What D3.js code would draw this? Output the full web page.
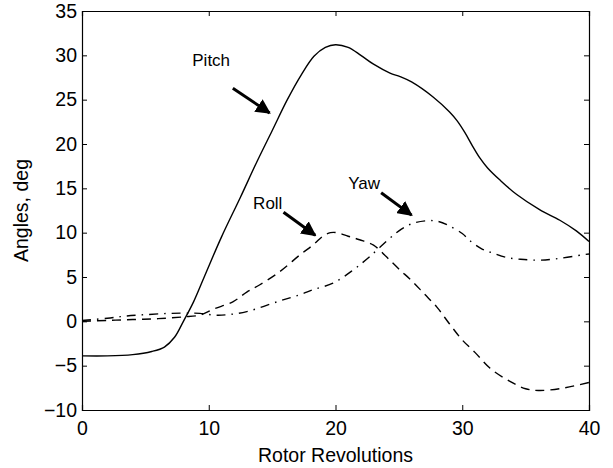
<!DOCTYPE html>
<html>
<head>
<meta charset="utf-8">
<script src="https://cdn.jsdelivr.net/npm/d3@7"></script>
<style>
  html, body { margin: 0; padding: 0; background: #fff; }
  svg { display: block; }
  text { font-family: "Liberation Sans", Arial, Helvetica, sans-serif; fill: #000; }
</style>
</head>
<body>
<svg id="chart" width="613" height="468"></svg>
<script>
// Rotor revolutions (x) and attitude angles in degrees (y)
const pitchRev = [0, 2, 4, 5.5, 6.5, 7.3, 8, 8.8, 9.7, 11, 12.5, 13.8, 15, 16.2, 17.3, 18.3, 19.2, 20, 21, 22, 23, 24.3, 25.1, 26, 27.7, 29, 29.6, 30.2, 30.8, 31.4, 32, 33, 34.3, 36.1, 37.7, 39, 40];
const pitchDeg = [-3.9, -3.9, -3.75, -3.4, -2.9, -1.8, 0, 2.2, 5.2, 9.5, 14, 18, 21.5, 25, 27.8, 29.9, 30.9, 31.2, 30.9, 30.0, 29.0, 28.0, 27.6, 27.0, 25.3, 23.6, 22.6, 21.3, 19.8, 18.4, 17.3, 15.9, 14.3, 12.6, 11.4, 10.2, 9.0];

const rollRev = [0, 2, 4, 6, 8, 9.3, 10.4, 11.9, 13, 14, 15.6, 17.2, 18.3, 19, 19.6, 20.1, 21, 21.9, 23, 24, 25, 26, 27, 28, 29, 30, 31, 32.2, 33.8, 35, 36, 37.7, 40];
const rollDeg = [0, 0.1, 0.2, 0.3, 0.5, 0.7, 1.4, 2.2, 3.3, 4.1, 5.6, 7.5, 8.7, 9.6, 10.0, 10.0, 9.6, 9.2, 8.6, 7.3, 5.9, 4.6, 3.1, 1.6, -0.3, -2.1, -3.5, -5.3, -6.8, -7.6, -7.8, -7.6, -6.9];

const yawRev = [0, 2, 3.5, 5, 7, 9.3, 10.5, 11.5, 13, 15.6, 17.2, 18.3, 19.8, 21.4, 22.7, 24.3, 25.2, 26.1, 27.2, 28, 28.8, 30, 30.6, 31.5, 32.4, 33.5, 34.6, 36.1, 37.7, 39.5, 40];
const yawDeg = [0.1, 0.35, 0.6, 0.75, 0.9, 0.9, 0.7, 0.75, 1.1, 2.3, 3.0, 3.6, 4.3, 5.8, 7.3, 9.4, 10.4, 11.05, 11.35, 11.3, 10.9, 9.9, 9.1, 8.2, 7.7, 7.2, 7.0, 6.9, 7.1, 7.5, 7.6];

const xTicks = [0, 10, 20, 30, 40];
const yTicks = [-10, -5, 0, 5, 10, 15, 20, 25, 30, 35];

// Callout labels: text anchor point and arrow from/to, in data units
const calloutNames = ["Pitch", "Roll", "Yaw"];
const calloutText = [[8.7, 28.8], [13.5, 12.7], [21.0, 14.9]];
const calloutFrom = [[11.9, 26.3], [15.9, 12.3], [23.6, 14.5]];
const calloutTo = [[14.8, 23.5], [18.4, 9.7], [26.0, 11.98]];

const svg = d3.select("#chart");
const margin = { left: 82, top: 11, right: 24, bottom: 58 };
const W = 613, H = 468;
const x = d3.scaleLinear().domain([0, 40]).range([margin.left, W - margin.right]);
const y = d3.scaleLinear().domain([-10, 35]).range([H - margin.bottom, margin.top]);

const FS = 19.5;

// Frame with inward ticks on all four sides
const gB = svg.append("g").attr("transform", `translate(0,${y(-10)})`)
  .call(d3.axisBottom(x).tickValues(xTicks).tickSize(-5).tickPadding(11).tickFormat(d3.format("d")));
const gT = svg.append("g").attr("transform", `translate(0,${y(35)})`)
  .call(d3.axisTop(x).tickValues(xTicks).tickSize(-5).tickFormat(""));
const gL = svg.append("g").attr("transform", `translate(${x(0)},0)`)
  .call(d3.axisLeft(y).tickValues(yTicks).tickSize(-5).tickPadding(5).tickFormat(d => d < 0 ? "\u2212" + Math.abs(d) : d));
const gR = svg.append("g").attr("transform", `translate(${x(40)},0)`)
  .call(d3.axisRight(y).tickValues(yTicks).tickSize(-5).tickFormat(""));

[gB, gT, gL, gR].forEach(g => {
  g.select(".domain").attr("stroke", "#000").attr("stroke-width", 1.2);
  g.selectAll(".tick line").attr("stroke", "#000").attr("stroke-width", 1);
  g.selectAll("text").attr("font-size", FS).attr("font-family", "Liberation Sans, Arial, sans-serif").attr("fill", "#000");
});

// Curves
const line = d3.line().x(d => x(d[0])).y(d => y(d[1])).curve(d3.curveCatmullRom.alpha(0.5));
const series = [
  { rev: pitchRev, deg: pitchDeg, dash: null },
  { rev: rollRev, deg: rollDeg, dash: "9,6" },
  { rev: yawRev, deg: yawDeg, dash: "9,6,1.5,6" }
];
series.forEach(s => {
  svg.append("path")
    .datum(s.rev.map((r, i) => [r, s.deg[i]]))
    .attr("fill", "none")
    .attr("stroke", "#000")
    .attr("stroke-width", 1.4)
    .attr("stroke-dasharray", s.dash)
    .attr("d", line);
});

// Arrow head marker
svg.append("defs").append("marker")
  .attr("id", "head")
  .attr("viewBox", "0 0 10 10")
  .attr("refX", 9).attr("refY", 5)
  .attr("markerWidth", 5).attr("markerHeight", 5)
  .attr("markerUnits", "strokeWidth")
  .attr("orient", "auto")
  .append("path").attr("d", "M0,0 L10,5 L0,10 Z").attr("fill", "#000");

calloutNames.forEach((name, i) => {
  svg.append("text")
    .attr("x", x(calloutText[i][0])).attr("y", y(calloutText[i][1]))
    .attr("font-size", 17)
    .text(name);
  svg.append("line")
    .attr("x1", x(calloutFrom[i][0])).attr("y1", y(calloutFrom[i][1]))
    .attr("x2", x(calloutTo[i][0])).attr("y2", y(calloutTo[i][1]))
    .attr("stroke", "#000").attr("stroke-width", 3)
    .attr("marker-end", "url(#head)");
});

// Axis titles
svg.append("text")
  .attr("x", (x(0) + x(40)) / 2).attr("y", 462)
  .attr("text-anchor", "middle").attr("font-size", FS)
  .text("Rotor Revolutions");
svg.append("text")
  .attr("transform", `translate(28,${(y(-10) + y(35)) / 2}) rotate(-90)`)
  .attr("text-anchor", "middle").attr("font-size", FS)
  .text("Angles, deg");
</script>
</body>
</html>
